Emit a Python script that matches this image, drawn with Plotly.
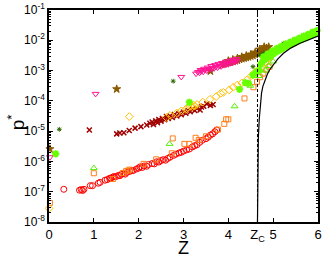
import plotly.graph_objects as go

ZC = 4.65

# red open circles (Z, log10 p*)
red_z = [0.33,0.68,0.72,0.75,0.78,0.92,0.97,1.1,1.14,1.25,1.3,1.35,1.38,1.42,1.45,1.5,1.55,1.58,1.62,1.66,1.7,1.74,1.8,1.85,1.88,1.95,2.0,2.03,2.08,2.12,2.18,2.22,2.3,2.35,2.4,2.45,2.5,2.55,2.6,2.65,2.7,2.78,2.83,2.9,2.95,3.0,3.07,3.13,3.2,3.25,3.3,3.36,3.42,3.5,3.55,3.6,3.65,3.7,3.74]
red_lp = [-6.92,-6.95,-6.93,-6.96,-6.92,-6.80,-6.80,-6.72,-6.69,-6.62,-6.6,-6.56,-6.55,-6.52,-6.5,-6.5,-6.46,-6.47,-6.42,-6.4,-6.42,-6.36,-6.33,-6.3,-6.3,-6.25,-6.22,-6.18,-6.2,-6.15,-6.16,-6.1,-6.07,-6.08,-6.01,-6.02,-5.97,-5.94,-5.96,-5.9,-5.86,-5.8,-5.76,-5.72,-5.7,-5.66,-5.62,-5.59,-5.52,-5.48,-5.45,-5.37,-5.3,-5.25,-5.2,-5.13,-5.09,-5.02,-4.96]

# orange open squares
org_z = [0.02,1.0,1.43,1.65,1.72,1.76,1.8,2.11,2.39,2.74,2.76,3.02,3.13,3.27,3.34,3.50,3.77,3.91,3.95,4.0,4.36,4.56,4.64,4.71,4.78,4.85,4.92]
org_lp = [-7.37,-6.39,-6.58,-6.38,-6.32,-6.30,-6.27,-6.08,-5.93,-5.73,-5.24,-5.42,-5.42,-5.22,-5.29,-5.17,-4.95,-4.76,-4.61,-4.61,-3.92,-3.55,-3.37,-3.22,-3.10,-2.97,-2.87]

# yellow open diamonds
yel_z = [0.0,1.79,2.62,2.7,2.85,2.95,3.05,3.1,3.15,3.2,3.22,3.25,3.3,3.43,3.59,3.73,3.83,3.89,4.02,4.11,4.20,4.30,4.41,4.52,4.60,4.67,4.75,4.82,4.90,4.97]
yel_lp = [-7.55,-4.52,-4.55,-4.48,-4.40,-4.33,-4.28,-4.22,-4.18,-4.2,-4.15,-4.17,-4.12,-4.04,-3.95,-3.86,-3.75,-3.72,-3.64,-3.55,-3.48,-3.41,-3.31,-3.16,-3.05,-2.98,-2.87,-2.72,-2.60,-2.49]

# dark red crosses
drd_z = [0.9,1.51,1.58,1.67,1.79,1.92,2.05,2.18,2.25,2.3,2.33,2.38,2.42,2.45,2.5,2.53,2.58,2.62,2.66,2.7,2.75,2.8,2.85,2.9,2.95,3.0,3.05,3.1,3.15,3.2,3.25,3.3,3.37,3.4,3.45,3.52,3.6,3.66]
drd_lp = [-4.96,-5.09,-5.06,-5.05,-4.98,-4.90,-4.85,-4.80,-4.74,-4.70,-4.78,-4.66,-4.72,-4.62,-4.67,-4.58,-4.62,-4.52,-4.58,-4.50,-4.55,-4.45,-4.50,-4.42,-4.46,-4.37,-4.41,-4.32,-4.36,-4.28,-4.32,-4.25,-4.30,-4.20,-4.18,-4.10,-4.15,-4.12]

# light green open triangles
tri_z = [1.0,2.69,4.14,4.49,4.68,4.83,4.9,5.0]
tri_lp = [-6.22,-5.42,-4.18,-3.50,-3.18,-3.0,-2.85,-2.7]

# light green asterisks
lgr_z = [0.15,3.13,4.25,4.38,4.45,4.55,4.62,4.69,4.72,4.76,4.8,4.85,4.9,4.95,5.0,5.05,5.1,5.15,5.2,5.25,5.3,5.35,5.4,5.45,5.5,5.55,5.6,5.65,5.7,5.75,5.8,5.85,5.9,5.95,4.78,4.88,4.98,5.08,5.18,5.28,5.38,5.48,5.58,5.68,5.78,5.88,5.98]
lgr_lp = [-5.75,-4.05,-3.62,-3.40,-3.42,-3.15,-3.05,-3.0,-2.8,-2.72,-2.66,-2.6,-2.55,-2.5,-2.45,-2.4,-2.36,-2.32,-2.28,-2.24,-2.2,-2.17,-2.13,-2.1,-2.06,-2.03,-2.0,-1.96,-1.93,-1.9,-1.86,-1.83,-1.8,-1.77,-2.55,-2.45,-2.35,-2.27,-2.2,-2.12,-2.06,-1.99,-1.93,-1.86,-1.8,-1.73,-1.68]

# dark green small asterisks
dgr_z = [0.23,2.77,4.55,4.71,4.78,5.04,5.18,5.23,5.36,5.45,5.51,5.6,5.66,5.8]
dgr_lp = [-4.94,-3.35,-2.87,-2.49,-2.43,-2.32,-2.26,-2.10,-2.16,-2.05,-2.07,-1.94,-1.99,-1.85]

# pink open down-triangles
pnk_z = [0.02,1.04,2.95,3.28,3.32,3.36,3.4,3.44,3.48,3.52,3.56,3.6,3.64,3.68,3.72,3.76,3.8,3.84,3.88,3.92,3.96,4.0,4.04,4.08,4.12,4.16,4.2,3.38,3.46,3.54,3.62,3.7,3.78,3.86,3.94,4.02,4.1,4.18]
pnk_lp = [-5.86,-3.77,-3.21,-3.1,-3.05,-3.07,-3.02,-3.04,-2.98,-3.0,-2.95,-2.96,-2.92,-2.93,-2.88,-2.9,-2.85,-2.86,-2.82,-2.82,-2.78,-2.79,-2.75,-2.75,-2.72,-2.7,-2.68,-2.98,-2.94,-2.9,-2.85,-2.82,-2.78,-2.75,-2.71,-2.68,-2.65,-2.62]

# brown stars
brn_z = [0.02,1.51,3.6,3.9,3.95,4.0,4.05,4.1,4.15,4.2,4.25,4.3,4.35,4.4,4.45,4.5,4.55,4.6,4.65,4.7,4.75,4.8,4.85,4.9,4.0,4.1,4.2,4.3,4.4,4.5,4.6,4.7,4.8]
brn_lp = [-5.59,-3.61,-3.02,-2.78,-2.76,-2.74,-2.72,-2.7,-2.68,-2.66,-2.63,-2.61,-2.59,-2.57,-2.55,-2.52,-2.5,-2.47,-2.44,-2.4,-2.36,-2.3,-2.26,-2.22,-2.68,-2.64,-2.6,-2.55,-2.51,-2.47,-2.4,-2.3,-2.22]

# theory curve
cur_z = [4.65,4.655,4.66,4.67,4.69,4.71,4.74,4.77,4.82,4.87,4.92,5.0,5.1,5.23,5.4,5.6,5.8,6.0]
cur_lp = [-8.0,-7.0,-6.2,-5.2,-4.6,-4.1,-3.75,-3.52,-3.28,-3.12,-2.98,-2.8,-2.62,-2.43,-2.25,-2.1,-1.97,-1.86]

ytick_exp = [-8,-7,-6,-5,-4,-3,-2,-1]
xtick_vals = [0,1,2,3,4,ZC,5,6]
xtick_text = ["0","1","2","3","4","Z<sub>C</sub>","5","6"]

def P(lp):
    return [10**v for v in lp]

fig = go.Figure()
def add(z, lp, sym, col, size=5, lw=1):
    fig.add_trace(go.Scatter(x=z, y=P(lp), mode="markers",
        marker=dict(symbol=sym, size=size, color=col, line=dict(color=col, width=lw)),
        showlegend=False, cliponaxis=False))

add(brn_z, brn_lp, "star", "#8b5a00", 6)
add(pnk_z, pnk_lp, "triangle-down-open", "#ff1493", 6)
add(dgr_z, dgr_lp, "asterisk-open", "#2e6b00", 4)
add(drd_z, drd_lp, "x-thin-open", "#a00000", 5, 1.5)
add(red_z, red_lp, "circle-open", "#ff0000", 6)
add(org_z, org_lp, "square-open", "#ff7f1a", 5)
add(yel_z, yel_lp, "diamond-open", "#ffbf00", 6)
add(tri_z, tri_lp, "triangle-up-open", "#55ee00", 6)
add(lgr_z, lgr_lp, "asterisk-open", "#66ff00", 6, 2)

fig.add_trace(go.Scatter(x=cur_z, y=P(cur_lp), mode="lines",
    line=dict(color="black", width=1.2), showlegend=False))
fig.add_trace(go.Scatter(x=[ZC, ZC], y=[1e-8, 1e-1], mode="lines",
    line=dict(color="black", width=1, dash="3px,2px"), showlegend=False))

fig.update_layout(
    width=332, height=258, autosize=False,
    margin=dict(l=49, r=14, t=10, b=36, autoexpand=False),
    plot_bgcolor="white", paper_bgcolor="white",
    font=dict(family="Liberation Sans, Arial, sans-serif", color="black", size=12),
    annotations=[
        dict(text="Z", xref="paper", yref="paper", x=0.5, y=-0.122, yanchor="middle",
             showarrow=False, font=dict(size=18)),
        dict(text="p<sup>*</sup>", xref="paper", yref="paper", x=-0.175, y=0.47,
             xanchor="left", textangle=-90, showarrow=False, font=dict(size=19)),
    ],
)
fig.update_xaxes(range=[0, 6], tickvals=xtick_vals, ticktext=xtick_text,
    ticks="inside", ticklen=4, tickcolor="black", showgrid=False, zeroline=False,
    showline=True, linecolor="black", linewidth=1.5, mirror="ticks",
    automargin=False, tickfont=dict(size=13))
fig.update_yaxes(type="log", range=[-8, -1],
    tickvals=[10**e for e in ytick_exp],
    ticktext=["10<sup>%d</sup>" % e for e in ytick_exp],
    ticks="inside", ticklen=4, tickcolor="black", showgrid=False, zeroline=False,
    minor=dict(ticks="inside", ticklen=2, tickcolor="black", dtick="D1"),
    showline=True, linecolor="black", linewidth=1.5, mirror="ticks",
    automargin=False, tickfont=dict(size=12))

fig.write_html("out.html", config={"displayModeBar": False},
               post_script="document.body.style.margin='0px';")
